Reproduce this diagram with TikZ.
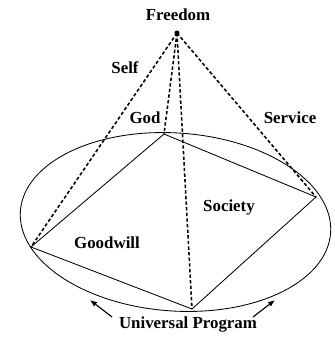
\documentclass[tikz,border=0pt]{standalone}
\usepackage{fontspec}
\setmainfont{Liberation Serif}
\usetikzlibrary{arrows.meta}
\begin{document}
\begin{tikzpicture}[
    x=0.025cm,y=-0.025cm,
    dashline/.style={line width=1.1pt,dash pattern=on 2.4pt off 1.6pt},
    edge/.style={semithick},
    lbl/.style={font=\bfseries\large,inner sep=1pt},
    arr/.style={thick,-{Latex[length=5pt,width=4pt]}}
]
\useasboundingbox (0,0) rectangle (335,343);

% ellipse
\draw[edge,rotate around={-4:(175.5,222)}] (175.5,222) ellipse (155.5 and 89);

% apex and vertices
\coordinate (apex) at (177,33);
\coordinate (god) at (164,134);
\coordinate (right) at (316,197);
\coordinate (bottom) at (192,309);
\coordinate (left) at (31,247);
\fill (apex) circle (1.8pt);

% quadrilateral
\draw[edge] (god) -- (right) -- (bottom) -- (left) -- cycle;

% dashed lines from freedom
\draw[dashline] (apex) -- (left);
\draw[dashline] (apex) -- (god);
\draw[dashline] (apex) -- (bottom);
\draw[dashline] (apex) -- (right);

% labels
\node[lbl] (freedom) at (178,15) {Freedom};
\node[lbl] (self) at (125,68) {Self};
\node[lbl] (godl) at (145,118) {God};
\node[lbl] (service) at (290,118) {Service};
\node[lbl] (society) at (229,207) {Society};
\node[lbl] (goodwill) at (107,243) {Goodwill};
\node[lbl] (program) at (188,325) {Universal Program};

% arrows
\coordinate (lt) at (112,317);
\coordinate (la) at (90,300);
\coordinate (rt) at (253,317);
\coordinate (ra) at (275,300);
\draw[arr] (lt) -- (la);
\draw[arr] (rt) -- (ra);

\end{tikzpicture}
\end{document}
